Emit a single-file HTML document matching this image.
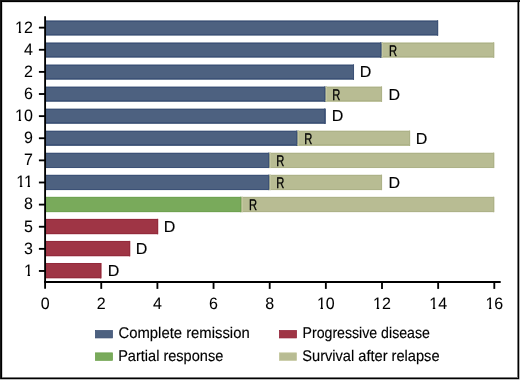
<!DOCTYPE html>
<html><head><meta charset="utf-8"><style>
html,body{margin:0;padding:0;background:#fff;}
body{width:520px;height:380px;overflow:hidden;position:relative;}
svg{position:absolute;left:0;top:0;}
text{font-family:"Liberation Sans",sans-serif;fill:#000;text-rendering:geometricPrecision;}
.yl{font-size:16.5px;text-anchor:end;stroke:#000;stroke-width:0.05px;}
.xl{font-size:16.5px;text-anchor:middle;stroke:#000;stroke-width:0.05px;}
.m{font-size:16px;stroke:#000;stroke-width:0.35px;}
.lg{font-size:15.5px;stroke:#000;stroke-width:0.15px;}
.ax{stroke:#000;stroke-width:1.85;}
</style></head><body>
<svg style="will-change:transform" width="520" height="380" viewBox="0 0 520 380">
<rect x="0" y="0" width="520" height="380" fill="#fff"/>
<g shape-rendering="crispEdges">
<rect x="0" y="0" width="520" height="1" fill="#151515"/>
<rect x="0" y="1" width="520" height="1" fill="#000"/>
<rect x="2" y="2" width="515" height="1" fill="#dcdcdc"/>
<rect x="0" y="0" width="1" height="380" fill="#151515"/>
<rect x="1" y="1" width="1" height="379" fill="#000"/>
<rect x="2" y="2" width="1" height="375" fill="#d4d4d4"/>
<rect x="517" y="2" width="1" height="376" fill="#777"/>
<rect x="518" y="1" width="1" height="378" fill="#000"/>
<rect x="519" y="2" width="1" height="378" fill="#b8b8b8"/>
<rect x="2" y="377" width="515" height="1" fill="#777"/>
<rect x="2" y="378" width="517" height="1" fill="#000"/>
<rect x="0" y="379" width="519" height="1" fill="#bbb"/>
<rect x="519" y="379" width="1" height="1" fill="#ddd"/>
</g>
<rect x="46" y="20.33" width="392.25" height="15.35" fill="#4d6180"/>
<rect x="46" y="21" width="392" height="1" fill="#3c5176"/>
<rect x="46" y="34" width="392" height="1" fill="#3c5176"/>
<rect x="437" y="20.33" width="1" height="15.35" fill="#3c5176"/>
<line x1="38.9" x2="45" y1="27.65" y2="27.65" class="ax"/>
<g transform="translate(32.9,33) scale(0.97,1)"><text x="0" y="0" class="yl">12</text><rect x="-17.9" y="-2" width="3.19" height="2" fill="#fff"/><rect x="-12.15" y="-2" width="2.96" height="2" fill="#fff"/></g>
<rect x="46" y="42.39" width="336.65" height="15.35" fill="#4d6180"/>
<rect x="46" y="43" width="335" height="1" fill="#3c5176"/>
<rect x="46" y="56" width="335" height="1" fill="#3c5176"/>
<rect x="380" y="42.39" width="1" height="15.35" fill="#3c5176"/>
<rect x="381.65" y="42.39" width="112.75" height="15.35" fill="#b8bc93"/>
<rect x="381.65" y="43" width="112.35" height="1" fill="#adb288"/>
<rect x="381.65" y="56" width="112.35" height="1" fill="#adb288"/>
<rect x="493" y="42.39" width="1" height="15.35" fill="#adb288"/>
<rect x="382" y="42.39" width="1" height="15.35" fill="#c4c79f"/>
<text transform="translate(388.91,56) scale(0.72,1)" class="m" style="font-size:15.5px">R</text>
<line x1="38.9" x2="45" y1="49.77" y2="49.77" class="ax"/>
<g transform="translate(32.9,55) scale(0.97,1)"><text x="0" y="0" class="yl">4</text></g>
<rect x="46" y="64.45" width="308.03" height="15.35" fill="#4d6180"/>
<rect x="46" y="65" width="308" height="1" fill="#3c5176"/>
<rect x="46" y="78" width="308" height="1" fill="#3c5176"/>
<rect x="353" y="64.45" width="1" height="15.35" fill="#3c5176"/>
<text x="359.76" y="77" class="m" style="stroke-width:0.15px">D</text>
<line x1="38.9" x2="45" y1="71.89" y2="71.89" class="ax"/>
<g transform="translate(32.9,77) scale(0.97,1)"><text x="0" y="0" class="yl">2</text></g>
<rect x="46" y="86.51" width="280.5" height="15.35" fill="#4d6180"/>
<rect x="46" y="87" width="279" height="1" fill="#3c5176"/>
<rect x="46" y="100" width="279" height="1" fill="#3c5176"/>
<rect x="324" y="86.51" width="1" height="15.35" fill="#3c5176"/>
<rect x="325.5" y="86.51" width="56.6" height="15.35" fill="#b8bc93"/>
<rect x="325.5" y="87" width="56.5" height="1" fill="#adb288"/>
<rect x="325.5" y="100" width="56.5" height="1" fill="#adb288"/>
<rect x="381" y="86.51" width="1" height="15.35" fill="#adb288"/>
<rect x="326" y="86.51" width="1" height="15.35" fill="#c4c79f"/>
<text transform="translate(332.21,100) scale(0.72,1)" class="m" style="font-size:15.5px">R</text>
<text x="388.46" y="100" class="m" style="stroke-width:0.15px">D</text>
<line x1="38.9" x2="45" y1="94.01" y2="94.01" class="ax"/>
<g transform="translate(32.9,99) scale(0.97,1)"><text x="0" y="0" class="yl">6</text></g>
<rect x="46" y="108.57" width="279.95" height="15.35" fill="#4d6180"/>
<rect x="46" y="109" width="279" height="1" fill="#3c5176"/>
<rect x="46" y="122" width="279" height="1" fill="#3c5176"/>
<rect x="324" y="108.57" width="1" height="15.35" fill="#3c5176"/>
<text x="331.76" y="121" class="m" style="stroke-width:0.15px">D</text>
<line x1="38.9" x2="45" y1="116.13" y2="116.13" class="ax"/>
<g transform="translate(32.9,121) scale(0.97,1)"><text x="0" y="0" class="yl">10</text><rect x="-17.9" y="-2" width="3.19" height="2" fill="#fff"/><rect x="-12.15" y="-2" width="2.96" height="2" fill="#fff"/></g>
<rect x="46" y="130.63" width="252.42" height="15.35" fill="#4d6180"/>
<rect x="46" y="131" width="251" height="1" fill="#3c5176"/>
<rect x="46" y="144" width="251" height="1" fill="#3c5176"/>
<rect x="296" y="130.63" width="1" height="15.35" fill="#3c5176"/>
<rect x="297.42" y="130.63" width="112.75" height="15.35" fill="#b8bc93"/>
<rect x="297.42" y="131" width="112.58" height="1" fill="#adb288"/>
<rect x="297.42" y="144" width="112.58" height="1" fill="#adb288"/>
<rect x="409" y="130.63" width="1" height="15.35" fill="#adb288"/>
<rect x="298" y="130.63" width="1" height="15.35" fill="#c4c79f"/>
<text transform="translate(304.21,144) scale(0.72,1)" class="m" style="font-size:15.5px">R</text>
<text x="415.76" y="144" class="m" style="stroke-width:0.15px">D</text>
<line x1="38.9" x2="45" y1="138.25" y2="138.25" class="ax"/>
<g transform="translate(32.9,143) scale(0.97,1)"><text x="0" y="0" class="yl">9</text></g>
<rect x="46" y="152.69" width="224.35" height="15.35" fill="#4d6180"/>
<rect x="46" y="153" width="223" height="1" fill="#3c5176"/>
<rect x="46" y="167" width="223" height="1" fill="#3c5176"/>
<rect x="268" y="152.69" width="1" height="15.35" fill="#3c5176"/>
<rect x="269.35" y="152.69" width="225.05" height="15.35" fill="#b8bc93"/>
<rect x="269.35" y="153" width="224.65" height="1" fill="#adb288"/>
<rect x="269.35" y="167" width="224.65" height="1" fill="#adb288"/>
<rect x="493" y="152.69" width="1" height="15.35" fill="#adb288"/>
<rect x="270" y="152.69" width="1" height="15.35" fill="#c4c79f"/>
<text transform="translate(276.21,166) scale(0.72,1)" class="m" style="font-size:15.5px">R</text>
<line x1="38.9" x2="45" y1="160.37" y2="160.37" class="ax"/>
<g transform="translate(32.9,165) scale(0.97,1)"><text x="0" y="0" class="yl">7</text></g>
<rect x="46" y="174.75" width="224.35" height="15.35" fill="#4d6180"/>
<rect x="46" y="175" width="223" height="1" fill="#3c5176"/>
<rect x="46" y="189" width="223" height="1" fill="#3c5176"/>
<rect x="268" y="174.75" width="1" height="15.35" fill="#3c5176"/>
<rect x="269.35" y="174.75" width="112.75" height="15.35" fill="#b8bc93"/>
<rect x="269.35" y="175" width="112.65" height="1" fill="#adb288"/>
<rect x="269.35" y="189" width="112.65" height="1" fill="#adb288"/>
<rect x="381" y="174.75" width="1" height="15.35" fill="#adb288"/>
<rect x="270" y="174.75" width="1" height="15.35" fill="#c4c79f"/>
<text transform="translate(276.21,188) scale(0.72,1)" class="m" style="font-size:15.5px">R</text>
<text x="388.46" y="188" class="m" style="stroke-width:0.15px">D</text>
<line x1="38.9" x2="45" y1="182.49" y2="182.49" class="ax"/>
<g transform="translate(32.9,187) scale(0.97,1)"><text x="0" y="0" class="yl">11</text><rect x="-16.67" y="-2" width="3.19" height="2" fill="#fff"/><rect x="-10.92" y="-2" width="2.96" height="2" fill="#fff"/><rect x="-8.72" y="-2" width="3.19" height="2" fill="#fff"/><rect x="-2.97" y="-2" width="2.96" height="2" fill="#fff"/></g>
<rect x="46" y="196.81" width="196.28" height="15.35" fill="#79aa5b"/>
<rect x="46" y="197" width="195" height="1" fill="#6fa251"/>
<rect x="46" y="211" width="195" height="1" fill="#6fa251"/>
<rect x="240" y="196.81" width="1" height="15.35" fill="#6fa251"/>
<rect x="241.28" y="196.81" width="253.13" height="15.35" fill="#b8bc93"/>
<rect x="241.28" y="197" width="252.72" height="1" fill="#adb288"/>
<rect x="241.28" y="211" width="252.72" height="1" fill="#adb288"/>
<rect x="493" y="196.81" width="1" height="15.35" fill="#adb288"/>
<rect x="242" y="196.81" width="1" height="15.35" fill="#c4c79f"/>
<text transform="translate(249.01,210) scale(0.72,1)" class="m" style="font-size:15.5px">R</text>
<line x1="38.9" x2="45" y1="204.61" y2="204.61" class="ax"/>
<g transform="translate(32.9,209) scale(0.97,1)"><text x="0" y="0" class="yl">8</text></g>
<rect x="46" y="218.87" width="112.25" height="15.35" fill="#9f3545"/>
<rect x="46" y="219" width="112" height="1" fill="#932a3b"/>
<rect x="46" y="233" width="112" height="1" fill="#932a3b"/>
<rect x="157" y="218.87" width="1" height="15.35" fill="#932a3b"/>
<text x="163.76" y="232" class="m" style="stroke-width:0.15px">D</text>
<line x1="38.9" x2="45" y1="226.73" y2="226.73" class="ax"/>
<g transform="translate(32.9,232) scale(0.97,1)"><text x="0" y="0" class="yl">5</text></g>
<rect x="46" y="240.93" width="84.3" height="15.35" fill="#9f3545"/>
<rect x="46" y="241" width="84" height="1" fill="#932a3b"/>
<rect x="46" y="255" width="84" height="1" fill="#932a3b"/>
<rect x="129" y="240.93" width="1" height="15.35" fill="#932a3b"/>
<text x="135.76" y="254" class="m" style="stroke-width:0.15px">D</text>
<line x1="38.9" x2="45" y1="248.85" y2="248.85" class="ax"/>
<g transform="translate(32.9,254) scale(0.97,1)"><text x="0" y="0" class="yl">3</text></g>
<rect x="46" y="262.99" width="55.6" height="15.35" fill="#9f3545"/>
<rect x="46" y="263" width="55" height="1" fill="#932a3b"/>
<rect x="46" y="277" width="55" height="1" fill="#932a3b"/>
<rect x="100" y="262.99" width="1" height="15.35" fill="#932a3b"/>
<text x="107.76" y="276" class="m" style="stroke-width:0.15px">D</text>
<line x1="38.9" x2="45" y1="270.97" y2="270.97" class="ax"/>
<g transform="translate(32.9,276) scale(0.97,1)"><text x="0" y="0" class="yl">1</text><rect x="-8.72" y="-2" width="3.19" height="2" fill="#fff"/><rect x="-2.97" y="-2" width="2.96" height="2" fill="#fff"/></g>
<line x1="45.1" x2="45.1" y1="16.3" y2="288.8" class="ax"/>
<line x1="44.2" x2="500.7" y1="281.95" y2="281.95" class="ax"/>
<g transform="translate(45.1,309) scale(0.97,1)"><text x="0" y="0" class="xl">0</text></g>
<line x1="101.25" x2="101.25" y1="281.95" y2="288.9" class="ax"/>
<g transform="translate(101.25,309) scale(0.97,1)"><text x="0" y="0" class="xl">2</text></g>
<line x1="157.4" x2="157.4" y1="281.95" y2="288.9" class="ax"/>
<g transform="translate(157.4,309) scale(0.97,1)"><text x="0" y="0" class="xl">4</text></g>
<line x1="213.55" x2="213.55" y1="281.95" y2="288.9" class="ax"/>
<g transform="translate(213.55,309) scale(0.97,1)"><text x="0" y="0" class="xl">6</text></g>
<line x1="269.7" x2="269.7" y1="281.95" y2="288.9" class="ax"/>
<g transform="translate(269.7,309) scale(0.97,1)"><text x="0" y="0" class="xl">8</text></g>
<line x1="325.85" x2="325.85" y1="281.95" y2="288.9" class="ax"/>
<g transform="translate(325.85,309) scale(0.97,1)"><text x="0" y="0" class="xl">10</text><rect x="-8.72" y="-2" width="3.19" height="2" fill="#fff"/><rect x="-2.97" y="-2" width="2.96" height="2" fill="#fff"/></g>
<line x1="382" x2="382" y1="281.95" y2="288.9" class="ax"/>
<g transform="translate(382,309) scale(0.97,1)"><text x="0" y="0" class="xl">12</text><rect x="-8.72" y="-2" width="3.19" height="2" fill="#fff"/><rect x="-2.97" y="-2" width="2.96" height="2" fill="#fff"/></g>
<line x1="438.15" x2="438.15" y1="281.95" y2="288.9" class="ax"/>
<g transform="translate(438.15,309) scale(0.97,1)"><text x="0" y="0" class="xl">14</text><rect x="-8.72" y="-2" width="3.19" height="2" fill="#fff"/><rect x="-2.97" y="-2" width="2.96" height="2" fill="#fff"/></g>
<line x1="494.3" x2="494.3" y1="281.95" y2="288.9" class="ax"/>
<g transform="translate(494.3,309) scale(0.97,1)"><text x="0" y="0" class="xl">16</text><rect x="-8.72" y="-2" width="3.19" height="2" fill="#fff"/><rect x="-2.97" y="-2" width="2.96" height="2" fill="#fff"/></g>
<rect x="95.35" y="330.45" width="17.2" height="7.5" fill="#4d6180" stroke="#3a4e72" stroke-width="0.7"/>
<text x="118.54" y="338" class="lg" textLength="131.11" lengthAdjust="spacingAndGlyphs">Complete remission</text>
<rect x="95.35" y="352.85" width="17.2" height="7.5" fill="#79aa5b" stroke="#6aa048" stroke-width="0.7"/>
<text x="118.18" y="360.8" class="lg" textLength="105.08" lengthAdjust="spacingAndGlyphs">Partial response</text>
<rect x="279.35" y="330.45" width="17.2" height="7.5" fill="#9f3545" stroke="#901f35" stroke-width="0.7"/>
<text x="302.54" y="338" class="lg" textLength="127.34" lengthAdjust="spacingAndGlyphs">Progressive disease</text>
<rect x="279.35" y="352.85" width="17.2" height="7.5" fill="#b8bc93" stroke="#c2c59a" stroke-width="0.7"/>
<text x="302.27" y="360.8" class="lg" textLength="137.28" lengthAdjust="spacingAndGlyphs">Survival after relapse</text>
</svg>
</body></html>
